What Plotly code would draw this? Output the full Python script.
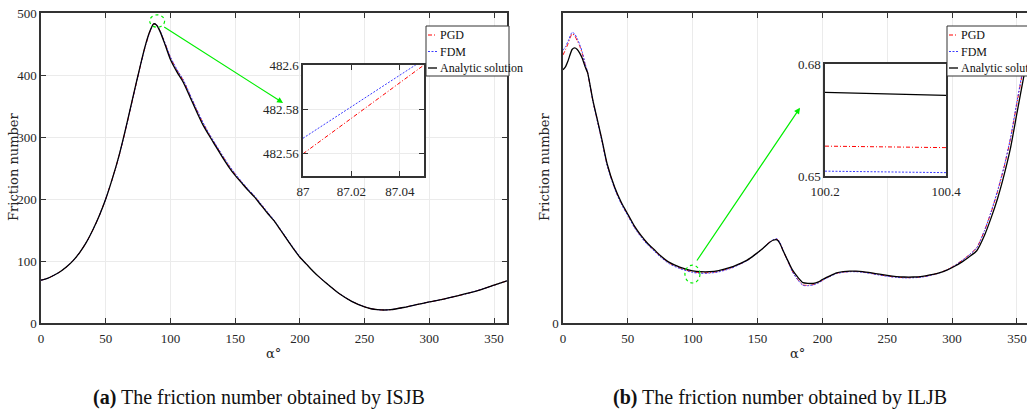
import plotly.graph_objects as go

# ---------------- data: (a) ISJB ----------------
names = ["PGD", "FDM", "Analytic solution"]
colors = ["#ff0000", "#3a3aff", "#000000"]
dashes = ["4px,2px,1px,2px", "2px,1.5px", "solid"]
widths = [1.0, 1.0, 1.3]

alpha_a = [0, 5, 10, 15, 20, 25, 30, 35, 40, 45, 50, 55, 60, 65, 70, 75, 80, 84, 87, 89, 92, 96,
           100, 105, 110, 115, 120, 125, 130, 135, 140, 145, 150, 155, 160, 165, 170, 175, 180,
           185, 190, 195, 200, 205, 210, 215, 220, 230, 240, 250, 255, 260, 265, 270, 280, 290,
           300, 310, 320, 330, 340, 350, 360]
ana_a = [69, 72, 77, 83, 91, 101, 114, 130, 150, 173, 200, 232, 268, 310, 355, 400, 443, 470, 482.5,
         481, 470, 448, 425, 405, 388, 365, 342, 320, 302, 285, 268, 252, 238, 226, 214, 203, 190,
         177, 165, 150, 135, 120, 106, 95, 84, 74, 65, 48, 35, 26, 23, 21.5, 21, 21.5, 25, 29.5,
         34, 38, 43, 48, 54, 61, 68]
pgd_a = [69, 72, 77, 83, 91, 101, 114, 130, 150, 173, 200, 232, 267, 309, 354, 399, 442, 469, 482.56,
         481.5, 471, 450, 428, 408, 391, 368, 345, 323, 304, 287, 270, 254, 240, 227, 215, 204, 191,
         178, 165, 150, 135, 120, 106, 95, 84, 74, 65, 48, 35, 26, 23, 21.5, 21, 21.5, 25, 29.5,
         34, 38, 43, 48, 54, 61, 68]
fdm_a = [69, 72, 77, 83, 91, 101, 114, 130, 150, 173, 200, 232, 267, 309, 354, 399, 442, 469, 482.57,
         481.6, 471.5, 450.5, 429, 409, 392, 369, 346, 324, 305, 288, 271, 255, 241, 228, 216, 205, 192,
         179, 166, 151, 136, 121, 107, 95, 84, 74, 65, 48, 35, 26, 23, 21.5, 21, 21.5, 25, 29.5,
         34, 38, 43, 48, 54, 61, 68]

# zoomed data near the peak (inset a)
zoom_alpha_a = [87.0, 87.05]
zoom_pgd_a = [482.560, 482.600]
zoom_fdm_a = [482.567, 482.6025]
zoom_ana_a = [482.50, 482.54]

# ---------------- data: (b) ILJB ----------------
alpha_b = [0, 2, 4, 7, 9, 11, 13, 15, 17, 19, 21, 23, 27, 30, 34, 40, 45, 50, 55, 60, 65, 70, 75, 82,
           90, 100, 106, 113, 120, 129, 135, 142, 148, 154, 158, 162, 165, 167, 170, 174, 177, 181,
           185, 189, 193, 197, 200, 205, 211, 216, 221, 226, 231, 238, 244, 250, 257, 263, 270, 277,
           283, 290, 296, 302, 308, 313, 319, 325, 330, 335, 340, 345, 350, 355, 360]
ana_b = [3.26, 3.30, 3.38, 3.52, 3.54, 3.52, 3.47, 3.40, 3.30, 3.22, 3.05, 2.87, 2.58, 2.36, 2.05,
         1.74, 1.55, 1.40, 1.25, 1.13, 1.03, 0.95, 0.87, 0.78, 0.72, 0.672, 0.660, 0.660, 0.675,
         0.715, 0.755, 0.81, 0.88, 0.96, 1.02, 1.065, 1.07, 1.03, 0.92, 0.78, 0.68, 0.59, 0.52,
         0.51, 0.51, 0.53, 0.56, 0.60, 0.645, 0.66, 0.668, 0.668, 0.662, 0.645, 0.628, 0.612,
         0.598, 0.592, 0.592, 0.60, 0.618, 0.645, 0.68, 0.73, 0.79, 0.85, 0.93, 1.13, 1.35, 1.60,
         1.90, 2.25, 2.70, 3.15, 3.55]
pgd_b = [3.45, 3.52, 3.60, 3.72, 3.70, 3.63, 3.56, 3.46, 3.33, 3.22, 3.04, 2.86, 2.57, 2.35, 2.04,
         1.73, 1.54, 1.39, 1.24, 1.12, 1.02, 0.94, 0.86, 0.77, 0.708, 0.658, 0.647, 0.648, 0.664,
         0.706, 0.748, 0.806, 0.878, 0.96, 1.025, 1.07, 1.08, 1.04, 0.92, 0.77, 0.66, 0.56, 0.49,
         0.485, 0.495, 0.52, 0.55, 0.595, 0.64, 0.655, 0.663, 0.663, 0.656, 0.638, 0.62, 0.604,
         0.59, 0.584, 0.585, 0.594, 0.614, 0.645, 0.685, 0.74, 0.81, 0.875, 0.97, 1.19, 1.42, 1.69,
         2.00, 2.37, 2.83, 3.28, 3.68]
fdm_b = [3.51, 3.56, 3.63, 3.74, 3.72, 3.66, 3.58, 3.48, 3.34, 3.23, 3.04, 2.86, 2.56, 2.34, 2.03,
         1.72, 1.53, 1.38, 1.23, 1.11, 1.01, 0.93, 0.85, 0.762, 0.70, 0.651, 0.640, 0.642, 0.658,
         0.70, 0.744, 0.803, 0.876, 0.958, 1.024, 1.072, 1.085, 1.045, 0.925, 0.77, 0.655, 0.555,
         0.485, 0.48, 0.49, 0.515, 0.548, 0.592, 0.637, 0.652, 0.66, 0.66, 0.653, 0.635, 0.617,
         0.601, 0.587, 0.581, 0.582, 0.591, 0.611, 0.642, 0.682, 0.738, 0.808, 0.873, 0.968, 1.19,
         1.43, 1.70, 2.01, 2.38, 2.85, 3.30, 3.70]

zoom_alpha_b = [100.2, 100.4]
zoom_pgd_b = [0.6580, 0.6576]
zoom_fdm_b = [0.6513, 0.6509]
zoom_ana_b = [0.6724, 0.6716]

x_ticks = [0, 50, 100, 150, 200, 250, 300, 350]
y_ticks_a = [0, 100, 200, 300, 400, 500]
y_ticks_b = [0]
ins_a_xticks = [87, 87.02, 87.04]
ins_a_xtext = ["87", "87.02", "87.04"]
ins_a_yticks = [482.56, 482.58, 482.6]
ins_a_ytext = ["482.56", "482.58", "482.6"]
ins_b_xticks = [100.2, 100.4]
ins_b_xtext = ["100.2", "100.4"]
ins_b_yticks = [0.65, 0.68]
ins_b_ytext = ["0.65", "0.68"]

captions = [("a", "The friction number obtained by ISJB"), ("b", "The friction number obtained by ILJB")]
ylabel = "Friction number"
xlabel = "α°"

# ---------------- figure ----------------
W, H = 1027, 410
def px(x):
    return x / W
def py(y):
    return 1 - y / H

SERIF = "Liberation Serif, Times New Roman, serif"

fig = go.Figure()

series_a = [pgd_a, fdm_a, ana_a]
series_b = [pgd_b, fdm_b, ana_b]
zoom_a = [zoom_pgd_a, zoom_fdm_a, zoom_ana_a]
zoom_b = [zoom_pgd_b, zoom_fdm_b, zoom_ana_b]

for i in range(3):
    ln = dict(color=colors[i], width=widths[i], dash=dashes[i])
    lns = dict(ln, shape="spline", smoothing=0.6)
    fig.add_trace(go.Scatter(x=alpha_a, y=series_a[i], mode="lines", line=lns, name=names[i],
                             showlegend=False, xaxis="x", yaxis="y"))
    fig.add_trace(go.Scatter(x=alpha_b, y=series_b[i], mode="lines", line=lns, name=names[i],
                             showlegend=False, xaxis="x2", yaxis="y2"))
    fig.add_trace(go.Scatter(x=zoom_alpha_a, y=zoom_a[i], mode="lines", line=ln, name=names[i],
                             showlegend=False, xaxis="x3", yaxis="y3"))
    fig.add_trace(go.Scatter(x=zoom_alpha_b, y=zoom_b[i], mode="lines", line=ln, name=names[i],
                             showlegend=False, xaxis="x4", yaxis="y4"))

tickfont = dict(family=SERIF, size=13, color="#262626")
base = dict(showline=True, linecolor="#333333", linewidth=1.5, mirror="ticks", ticks="inside",
            ticklen=5, tickwidth=1, tickcolor="#333333", gridcolor="#ebebeb", gridwidth=1,
            zeroline=False, tickfont=tickfont, fixedrange=True, automargin=False)

fig.update_layout(
    width=W, height=H, margin=dict(l=0, r=0, t=0, b=0, autoexpand=False),
    paper_bgcolor="white", plot_bgcolor="white",
    xaxis=dict(base, domain=[px(41), px(507)], range=[0, 360], tickvals=x_ticks,
               anchor="y", ticklabelstandoff=3),
    yaxis=dict(base, domain=[py(323), py(13)], range=[0, 500], tickvals=y_ticks_a, anchor="x"),
    xaxis2=dict(base, domain=[px(563), 1.0], range=[0, (W - 563) / 1.297], tickvals=x_ticks,
                anchor="y2", ticklabelstandoff=3),
    yaxis2=dict(base, domain=[py(323), py(13)], range=[0, 3.99], tickvals=y_ticks_b, anchor="x2",
                showgrid=False),
    xaxis3=dict(base, domain=[px(303), px(424)], range=[87, 87.05], tickvals=ins_a_xticks,
                ticktext=ins_a_xtext, anchor="y3", ticklabelstandoff=3),
    yaxis3=dict(base, domain=[py(176), py(65)], range=[482.55, 482.6], tickvals=ins_a_yticks,
                ticktext=ins_a_ytext, anchor="x3"),
    xaxis4=dict(base, domain=[px(825), px(946)], range=[100.2, 100.4], tickvals=ins_b_xticks,
                ticktext=ins_b_xtext, anchor="y4", ticklabelstandoff=3, showgrid=False),
    yaxis4=dict(base, domain=[py(176), py(64)], range=[0.65, 0.68], tickvals=ins_b_yticks,
                ticktext=ins_b_ytext, anchor="x4", showgrid=False),
)

shapes = []
annotations = []

# zoom markers (dashed circles) and arrows
green = "#00ee00"
shapes.append(dict(type="circle", xref="x", yref="y", x0=84.0, x1=95.5, y0=477, y1=497,
                   line=dict(color=green, width=1.2, dash="dot")))
shapes.append(dict(type="circle", xref="x2", yref="y2", x0=94.0, x1=105.6, y0=0.515, y1=0.745,
                   line=dict(color=green, width=1.2, dash="dot")))
annotations.append(dict(xref="x", yref="y", axref="x", ayref="y", x=187, y=355, ax=94, ay=479,
                        text="", showarrow=True, arrowhead=2, arrowsize=1, arrowwidth=1.2,
                        arrowcolor=green))
annotations.append(dict(xref="x2", yref="y2", axref="x2", ayref="y2", x=182.7, y=2.77, ax=102.5,
                        ay=0.785, text="", showarrow=True, arrowhead=2, arrowsize=1, arrowwidth=1.2,
                        arrowcolor=green))

# manual legends
for (bx0, bx1) in [(426, 509), (947, 1040)]:
    shapes.append(dict(type="rect", xref="paper", yref="paper", x0=px(bx0), x1=px(bx1),
                       y0=py(76), y1=py(26), line=dict(color="#333333", width=1),
                       fillcolor="white", layer="above"))
    for i, row_y in enumerate([35, 51.5, 68]):
        shapes.append(dict(type="line", xref="paper", yref="paper", x0=px(bx0 + 2), x1=px(bx0 + 11),
                           y0=py(row_y), y1=py(row_y),
                           line=dict(color=colors[i], width=widths[i], dash=dashes[i])))
        annotations.append(dict(xref="paper", yref="paper", x=px(bx0 + 11.5), y=py(row_y),
                                xanchor="left", yanchor="middle", text=names[i], showarrow=False,
                                font=dict(family=SERIF, size=12, color="#111111")))

# axis labels
for xc in [14, 545]:
    annotations.append(dict(xref="paper", yref="paper", x=px(xc), y=py(167), text=ylabel,
                            textangle=-90, showarrow=False, xanchor="center", yanchor="middle",
                            font=dict(family="DejaVu Serif", size=13, color="#262626")))
for xc in [273, 797]:
    annotations.append(dict(xref="paper", yref="paper", x=px(xc), y=py(353), text=xlabel,
                            showarrow=False, xanchor="center", yanchor="middle",
                            font=dict(family="DejaVu Serif", size=13, color="#262626")))

# captions
for xc, (tag, txt) in zip([259, 780], captions):
    annotations.append(dict(xref="paper", yref="paper", x=px(xc), y=py(397),
                            text="<b>(" + tag + ")</b> " + txt, showarrow=False,
                            xanchor="center", yanchor="middle",
                            font=dict(family=SERIF, size=20, color="#111111")))

fig.update_layout(shapes=shapes, annotations=annotations)
fig.write_html("out.html")
